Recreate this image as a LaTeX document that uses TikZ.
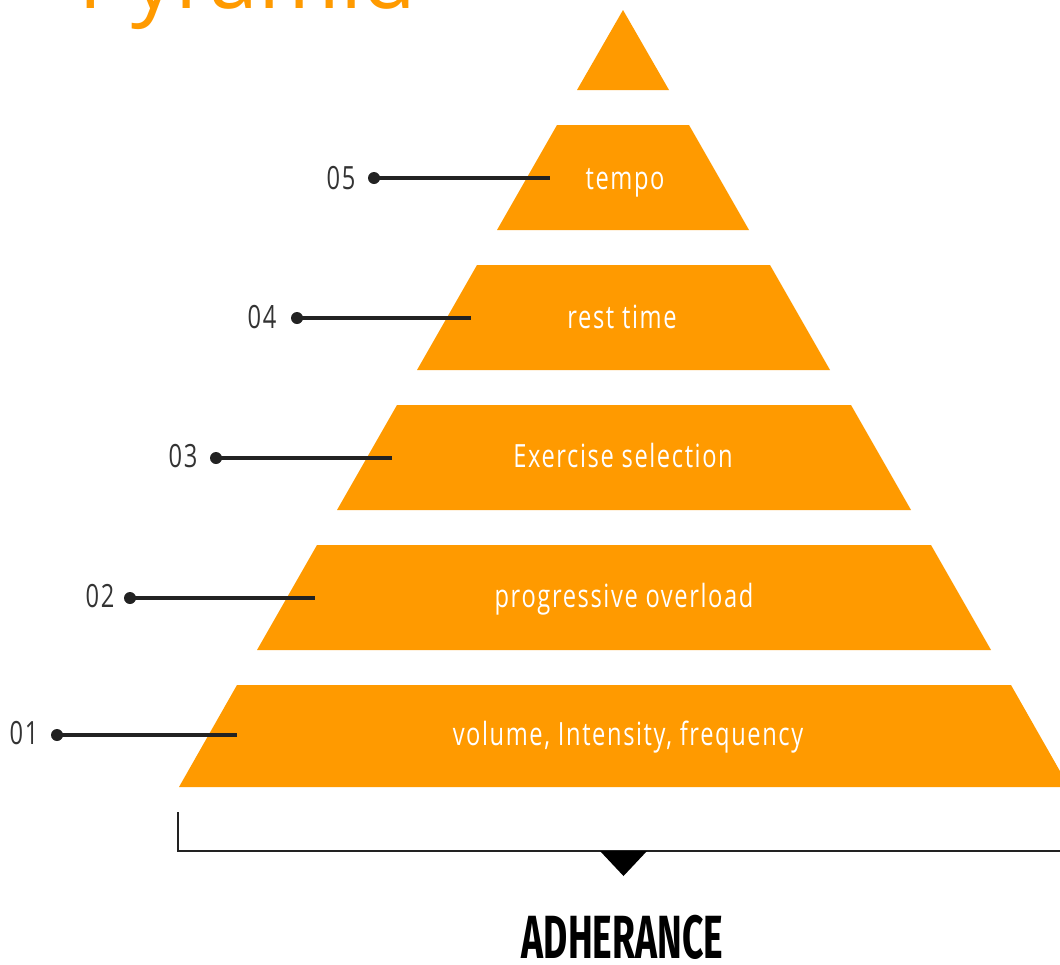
\documentclass[tikz,border=0pt]{standalone}
\usepackage{fontspec}
\setmainfont{Open Sans}
\newfontfamily\tierfont[FakeStretch=0.74, LetterSpace=5]{Open Sans}
\newfontfamily\titlefont{Open Sans}
\newfontfamily\capsfont[FakeStretch=0.61]{Fira Sans Bold}
\definecolor{pyrorange}{HTML}{FF9A00}
\definecolor{inkdark}{HTML}{222222}
\definecolor{numgray}{HTML}{333333}
\tikzset{
  tier/.style={fill=pyrorange, draw=none},
  tiertext/.style={text=white, font=\tierfont\fontsize{32}{36}\selectfont, inner sep=0pt, anchor=base},
  numlabel/.style={text=numgray, font=\tierfont\fontsize{32}{36}\selectfont, inner sep=0pt, anchor=base},
  dotnode/.style={circle, fill=inkdark, minimum size=12pt, inner sep=0pt},
  lead/.style={draw=inkdark, line width=3.3pt},
  bracket/.style={draw=inkdark, line width=2pt},
}
\begin{document}
\begin{tikzpicture}[x=1pt, y=-1pt]
\useasboundingbox (0,0) rectangle (1060,964);

% title, partly above the page
\node[text=pyrorange, font=\titlefont\fontsize{88}{96}\selectfont, anchor=base west, inner sep=0pt] (title) at (78,8) {Pyramid};

% pyramid: cap and five tiers (centre x = 624)
\fill[tier] (623,10) -- (669,90) -- (577,90) -- cycle;
\fill[tier] (557,125) -- (689,125) -- (749,230) -- (497,230) -- cycle;
\fill[tier] (477,265) -- (770,265) -- (830,370) -- (417,370) -- cycle;
\fill[tier] (397,405) -- (851,405) -- (911,510) -- (337,510) -- cycle;
\fill[tier] (317,545) -- (931,545) -- (991,650) -- (257,650) -- cycle;
\fill[tier] (237,685) -- (1011,685) -- (1069,787) -- (179,787) -- cycle;

% tier captions
\node[tiertext] (t5) at (625,189) {tempo};
\node[tiertext] (t4) at (622,328) {rest time};
\node[tiertext] (t3) at (623,467) {Exercise selection};
\node[tiertext] (t2) at (624,607) {progressive overload};
\node[tiertext] (t1) at (628,745) {volume, Intensity, frequency};

% leader lines with numbers
\node[dotnode] (d5) at (374,178) {};
\node[dotnode] (d4) at (297,318) {};
\node[dotnode] (d3) at (216,458) {};
\node[dotnode] (d2) at (130,598) {};
\node[dotnode] (d1) at (57,735) {};
\coordinate (e5) at (550,178);
\coordinate (e4) at (471,318);
\coordinate (e3) at (392,458);
\coordinate (e2) at (315,598);
\coordinate (e1) at (237,735);
\draw[lead] (d5.center) -- (e5);
\draw[lead] (d4.center) -- (e4);
\draw[lead] (d3.center) -- (e3);
\draw[lead] (d2.center) -- (e2);
\draw[lead] (d1.center) -- (e1);
\node[numlabel] (n5) at (341,189) {05};
\node[numlabel] (n4) at (262,328) {04};
\node[numlabel] (n3) at (183,467) {03};
\node[numlabel] (n2) at (100,607) {02};
\node[numlabel] (n1) at (24,744) {01};

% base bracket and pointer
\coordinate (bl) at (178,812);
\coordinate (br) at (1070,851);
\draw[bracket] (bl) |- (br);
\fill[black] (600,851) -- (647,851) -- (623.5,876) -- cycle;

\node[text=black, font=\capsfont\fontsize{61}{64}\selectfont, anchor=base, inner sep=0pt] (adh) at (622.5,958) {ADHERANCE};
\end{tikzpicture}
\end{document}
